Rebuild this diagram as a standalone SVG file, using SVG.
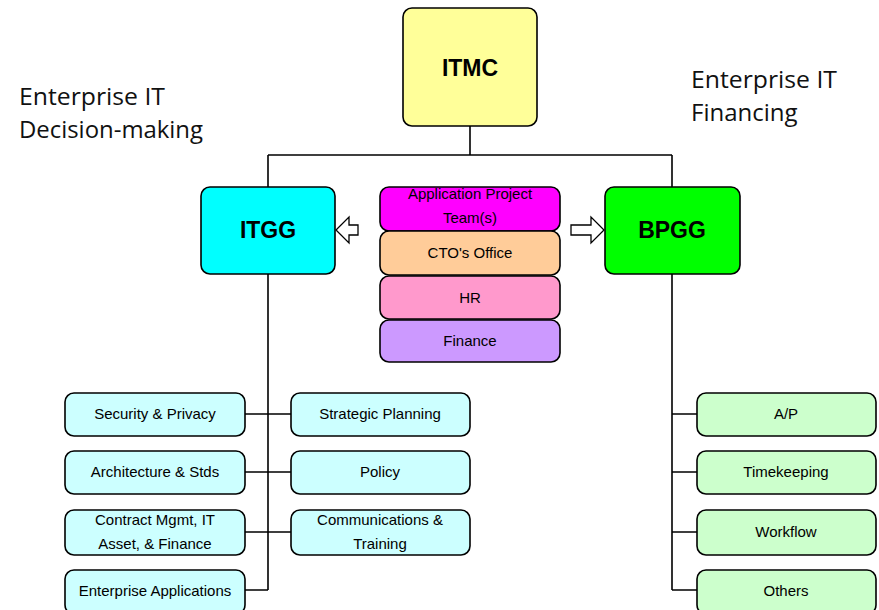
<svg xmlns="http://www.w3.org/2000/svg" width="879" height="610" viewBox="0 0 879 610">
  <style>
    .box { stroke: #000; stroke-width: 1.6; }
    .wire { stroke: #000; stroke-width: 1.6; fill: none; }
    .big { font-family: "Liberation Sans", Arial, sans-serif; font-weight: bold; font-size: 23px; text-anchor: middle; fill: #000; }
    .lbl { font-family: "Liberation Sans", Arial, sans-serif; font-size: 15px; text-anchor: middle; fill: #000; }
    .note { font-family: "Open Sans", "Noto Sans", sans-serif; font-size: 24px; fill: #111; }
    .hollow { fill: #fff; stroke: #000; stroke-width: 1.3; }
  </style>
  <rect width="879" height="610" fill="#fff"/>

  <!-- side notes -->
  <text class="note" x="19" y="105" textLength="146" lengthAdjust="spacingAndGlyphs">Enterprise IT</text>
  <text class="note" x="19" y="138" textLength="184" lengthAdjust="spacingAndGlyphs">Decision-making</text>
  <text class="note" x="691" y="88" textLength="146" lengthAdjust="spacingAndGlyphs">Enterprise IT</text>
  <text class="note" x="691" y="121">Financing</text>

  <!-- connectors -->
  <g id="connectors">
    <path class="wire" d="M470 126 V155 M268 155 H672 M268 155 V187 M672 155 V187"/>
    <path class="wire" d="M268 274 V590 M245 414 H291 M245 472 H291 M245 532 H291 M245 590 H268"/>
    <path class="wire" d="M672 274 V590 M672 414 H697 M672 472 H697 M672 532 H697 M672 590 H697"/>
    <polygon class="hollow" points="358,225 349,225 349,217 336,230 349,243 349,235 358,235"/>
    <polygon class="hollow" points="571,225 591,225 591,217 604,230 591,243 591,235 571,235"/>
  </g>

  <g id="itmc">
    <rect class="box" x="403" y="8" width="134" height="118" rx="9" fill="#FFFF99"/>
    <text class="big" x="470" y="76">ITMC</text>
  </g>
  <g id="itgg">
    <rect class="box" x="201" y="187" width="134" height="87" rx="9" fill="#00FFFF"/>
    <text class="big" x="268" y="238">ITGG</text>
  </g>
  <g id="bpgg">
    <rect class="box" x="605" y="187" width="135" height="87" rx="9" fill="#00FF00"/>
    <text class="big" x="672" y="238">BPGG</text>
  </g>

  <!-- central stack -->
  <g id="app-team">
    <rect class="box" x="380" y="187" width="180" height="44" rx="9" fill="#FF00FF"/>
    <text class="lbl" x="470" y="199">Application Project</text>
    <text class="lbl" x="470" y="223">Team(s)</text>
  </g>
  <g id="cto">
    <rect class="box" x="380" y="231" width="180" height="44" rx="9" fill="#FFCC99"/>
    <text class="lbl" x="470" y="258">CTO's Office</text>
  </g>
  <g id="hr">
    <rect class="box" x="380" y="276" width="180" height="43" rx="9" fill="#FF99CC"/>
    <text class="lbl" x="470" y="303">HR</text>
  </g>
  <g id="finance">
    <rect class="box" x="380" y="320" width="180" height="42" rx="9" fill="#CC99FF"/>
    <text class="lbl" x="470" y="346">Finance</text>
  </g>

  <!-- ITGG groups -->
  <g id="security">
    <rect class="box" x="65" y="393" width="180" height="43" rx="9" fill="#CCFFFF"/>
    <text class="lbl" x="155" y="419">Security &amp; Privacy</text>
  </g>
  <g id="strategic">
    <rect class="box" x="291" y="393" width="179" height="43" rx="9" fill="#CCFFFF"/>
    <text class="lbl" x="380" y="419">Strategic Planning</text>
  </g>
  <g id="architecture">
    <rect class="box" x="65" y="451" width="180" height="43" rx="9" fill="#CCFFFF"/>
    <text class="lbl" x="155" y="477">Architecture &amp; Stds</text>
  </g>
  <g id="policy">
    <rect class="box" x="291" y="451" width="179" height="43" rx="9" fill="#CCFFFF"/>
    <text class="lbl" x="380" y="477">Policy</text>
  </g>
  <g id="contract">
    <rect class="box" x="65" y="510" width="180" height="45" rx="9" fill="#CCFFFF"/>
    <text class="lbl" x="155" y="525">Contract Mgmt, IT</text>
    <text class="lbl" x="155" y="549">Asset, &amp; Finance</text>
  </g>
  <g id="communications">
    <rect class="box" x="291" y="510" width="179" height="45" rx="9" fill="#CCFFFF"/>
    <text class="lbl" x="380" y="525">Communications &amp;</text>
    <text class="lbl" x="380" y="549">Training</text>
  </g>
  <g id="enterprise-apps">
    <rect class="box" x="65" y="570" width="180" height="44" rx="9" fill="#CCFFFF"/>
    <text class="lbl" x="155" y="596">Enterprise Applications</text>
  </g>

  <!-- BPGG groups -->
  <g id="ap">
    <rect class="box" x="697" y="393" width="179" height="43" rx="9" fill="#CCFFCC"/>
    <text class="lbl" x="786" y="419">A/P</text>
  </g>
  <g id="timekeeping">
    <rect class="box" x="697" y="451" width="179" height="43" rx="9" fill="#CCFFCC"/>
    <text class="lbl" x="786" y="477">Timekeeping</text>
  </g>
  <g id="workflow">
    <rect class="box" x="697" y="510" width="179" height="45" rx="9" fill="#CCFFCC"/>
    <text class="lbl" x="786" y="537">Workflow</text>
  </g>
  <g id="others">
    <rect class="box" x="697" y="570" width="179" height="44" rx="9" fill="#CCFFCC"/>
    <text class="lbl" x="786" y="596">Others</text>
  </g>
</svg>
